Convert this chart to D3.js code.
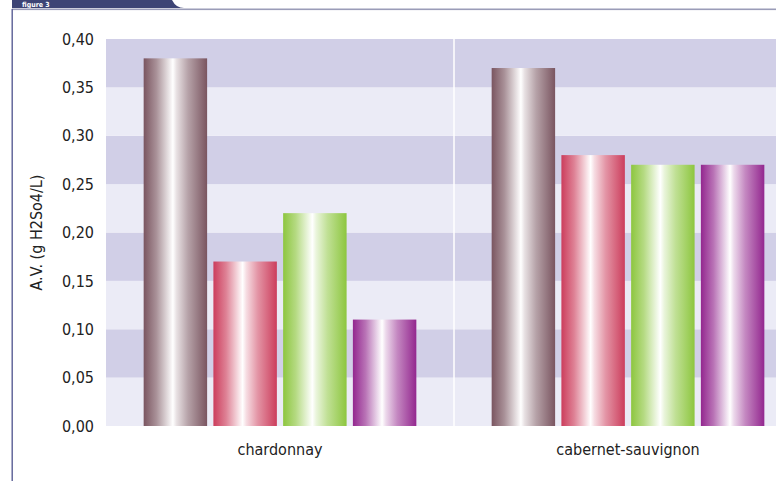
<!DOCTYPE html>
<html><head><meta charset="utf-8">
<script src="https://cdn.jsdelivr.net/npm/d3@7"></script>
<style>html,body{margin:0;padding:0;background:#fff;overflow:hidden}</style>
</head><body>
<script>
const categories = ["chardonnay", "cabernet-sauvignon"];
const seriesNames = ["s1", "s2", "s3", "s4"];
const chardonnayValues = [0.38, 0.17, 0.22, 0.11];
const cabernetValues = [0.37, 0.28, 0.27, 0.27];
const seriesColors = ["#7a5560", "#cc3d5c", "#8dc63f", "#93278f"];
const yTicks = [0, 0.05, 0.10, 0.15, 0.20, 0.25, 0.30, 0.35, 0.40];
const yTitle = "A.V. (g H2So4/L)";
const figureLabel = "figure 3";

const W = 776, H = 481;
const svg = d3.select("body").append("svg").attr("width", W).attr("height", H);
const font = "'DejaVu Sans Condensed', 'Open Sans', sans-serif";

const data = categories.map((c, i) => ({cat: c, values: [chardonnayValues, cabernetValues][i]}));

const y = d3.scaleLinear().domain([0, 0.4]).range([426, 39]);
const x0 = d3.scaleBand().domain(categories).range([106, 802]).padding(0);
const x1 = d3.scaleBand().domain(seriesNames).range([0, x0.bandwidth()]).paddingInner(0.09).paddingOuter(0.54);

// gradients
const defs = svg.append("defs");
seriesColors.forEach((col, i) => {
  const g = defs.append("linearGradient").attr("id", "g" + i).attr("x1", "0").attr("x2", "1").attr("y1", "0").attr("y2", "0");
  const light = d3.interpolateRgb(col, "#ffffff");
  [[0, col], [0.2, light(0.35)], [0.38, light(0.8)], [0.46, "#ffffff"], [0.52, light(0.82)], [0.7, light(0.45)], [1, col]]
    .forEach(([o, cc]) => g.append("stop").attr("offset", o).attr("stop-color", cc));
});

// header
svg.append("path")
  .attr("d", "M12,0 L172,0 Q176,8 184,8 L12,8 Z")
  .attr("fill", "#3d4475");
svg.append("text").attr("x", 22).attr("y", 6.5).attr("fill", "#fff")
  .attr("font-family", font).attr("font-weight", "bold").attr("font-size", 7).text(figureLabel);
svg.append("rect").attr("x", 12).attr("y", 8.5).attr("width", W).attr("height", 1.6).attr("fill", "#9a9cb8");
svg.append("rect").attr("x", 11.5).attr("y", 9).attr("width", 1.4).attr("height", H).attr("fill", "#5a5f95");

// bands
const bands = d3.pairs(yTicks);
svg.append("g").selectAll("rect").data(bands).join("rect")
  .attr("x", 106).attr("width", 802 - 106)
  .attr("y", d => y(d[1])).attr("height", d => y(d[0]) - y(d[1]))
  .attr("fill", (d, i) => i % 2 === 0 ? "#ebebf6" : "#d1cfe7");

// divider
svg.append("line").attr("x1", x0(categories[1])).attr("x2", x0(categories[1]))
  .attr("y1", y(0.4)).attr("y2", y(0)).attr("stroke", "#ffffff").attr("stroke-width", 1.5);

// bars
const grp = svg.append("g").selectAll("g").data(data).join("g")
  .attr("transform", d => `translate(${x0(d.cat)},0)`);
grp.selectAll("rect").data(d => d.values.map((v, i) => ({s: seriesNames[i], v, i}))).join("rect")
  .attr("x", d => x1(d.s)).attr("width", x1.bandwidth())
  .attr("y", d => y(d.v)).attr("height", d => y(0) - y(d.v))
  .attr("fill", d => `url(#g${d.i})`);

// y axis
const yAxis = d3.axisLeft(y).tickValues(yTicks).tickSize(0).tickPadding(0)
  .tickFormat(d => d3.format(".2f")(d).replace(".", ","));
const ya = svg.append("g").attr("transform", "translate(94,0)").call(yAxis);
ya.select(".domain").remove();
ya.selectAll("text").attr("font-family", font).attr("font-size", 16).attr("fill", "#222");

// x axis
const xAxis = d3.axisBottom(x0).tickSize(0).tickPadding(0);
const xa = svg.append("g").attr("transform", "translate(0,444)").call(xAxis);
xa.select(".domain").remove();
xa.selectAll("text").attr("font-family", font).attr("font-size", 16).attr("fill", "#222");

// y title
svg.append("text").attr("transform", `translate(42,${(y(0)+y(0.4))/2}) rotate(-90)`)
  .attr("text-anchor", "middle").attr("font-family", font).attr("font-size", 16).attr("fill", "#222")
  .text(yTitle);
</script>
</body></html>
